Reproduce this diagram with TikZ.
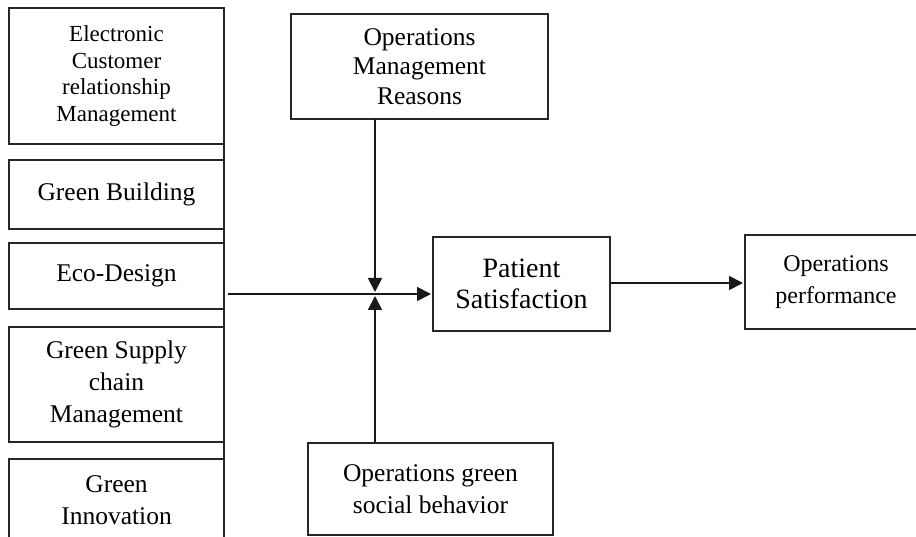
\documentclass[tikz,border=0pt]{standalone}
\usepackage{fontspec}
\setmainfont{Liberation Serif}
\usetikzlibrary{arrows.meta}
\begin{document}
\begin{tikzpicture}[x=1pt,y=-1pt,
  box/.style={draw=black!85,line width=1.8pt,rectangle,inner sep=0pt,outer sep=0pt,align=center,
    font=\fontsize{25.5}{31.7}\selectfont},
  arr/.style={line width=1.8pt,draw=black!90,-{Triangle[length=14pt,width=14pt]}},
  ln/.style={line width=1.8pt,draw=black!85}]
\clip (0,0) rectangle (916,537);
\useasboundingbox (0,0) rectangle (916,537);
\fill[white] (0,0) rectangle (916,537);
\node[box,minimum width=215pt,minimum height=136pt,font=\fontsize{23}{26.7}\selectfont] (ecrm) at (116.5,76) {Electronic\\Customer\\relationship\\Management};
\node[box,minimum width=215pt,minimum height=69pt] (gb) at (116.5,194.5) {Green Building};
\node[box,minimum width=215pt,minimum height=66pt] (eco) at (116.5,276) {Eco-Design};
\node[box,minimum width=215pt,minimum height=115pt] (gsc) at (116.5,384.5) {Green Supply\\chain\\Management};
\node[box,minimum width=215pt,minimum height=82pt] (gi) at (116.5,500) {Green\\Innovation};
\node[box,minimum width=257pt,minimum height=105pt,font=\fontsize{25.5}{29.5}\selectfont] (omr) at (419.5,66.5) {Operations\\Management\\Reasons};
\node[box,minimum width=177pt,minimum height=94pt,font=\fontsize{28}{31.7}\selectfont] (ps) at (521.5,284) {Patient\\Satisfaction};
\node[box,minimum width=245pt,minimum height=92pt] (ogsb) at (430.5,489) {Operations green\\social behavior};
\node[box,minimum width=182pt,minimum height=94pt,font=\fontsize{24}{31.7}\selectfont] (op) at (836,282) {Operations\\performance};
\coordinate (j) at (375,294);
\coordinate (s) at (228,294);
\coordinate (vt) at (224,103);
\coordinate (vb) at (224,550);
\draw[ln] (vt) -- (vb);
\draw[arr,shorten >=2pt] (omr.south -| j) -- (j);
\draw[arr,shorten >=2pt] (ogsb.north -| j) -- (j);
\draw[arr,shorten >=2pt] (s) -- (s -| ps.west);
\draw[arr,shorten >=2pt] ([yshift=1pt]ps.east) -- ([yshift=1pt]ps.east -| op.west);
\end{tikzpicture}
\end{document}
